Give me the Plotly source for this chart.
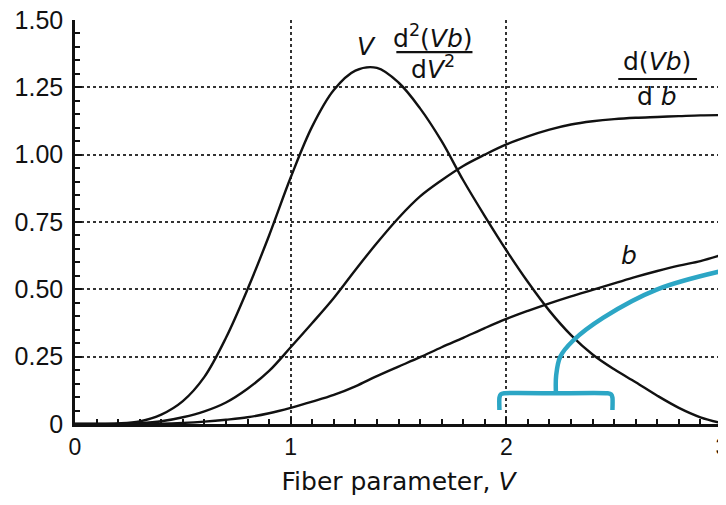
import plotly.graph_objects as go

# ---- data ----
V = [0.0, 0.1, 0.2, 0.3, 0.4, 0.5, 0.6, 0.7, 0.8, 0.9, 1.0, 1.1, 1.2, 1.3, 1.4, 1.5,
     1.6, 1.7, 1.8, 1.9, 2.0, 2.1, 2.2, 2.3, 2.4, 2.5, 2.6, 2.7, 2.8, 2.9, 3.0]
V_d2Vb = [0.0, 0.0, 0.002, 0.01, 0.035, 0.085, 0.175, 0.32, 0.5, 0.70, 0.915, 1.105, 1.24,
          1.312, 1.322, 1.268, 1.172, 1.05, 0.905, 0.772, 0.645, 0.527, 0.42, 0.33,
          0.258, 0.203, 0.155, 0.105, 0.06, 0.025, 0.003]
dVb = [0.0, 0.0, 0.0, 0.003, 0.01, 0.025, 0.047, 0.08, 0.131, 0.197, 0.285, 0.375, 0.468,
       0.572, 0.672, 0.765, 0.845, 0.905, 0.958, 1.0, 1.038, 1.068, 1.093, 1.112,
       1.124, 1.132, 1.137, 1.14, 1.143, 1.146, 1.147]
b = [0.0, 0.0, 0.0, 0.0, 0.001, 0.004, 0.009, 0.016, 0.025, 0.04, 0.06, 0.083, 0.108, 0.14,
     0.178, 0.213, 0.248, 0.285, 0.32, 0.356, 0.39, 0.42, 0.448, 0.474, 0.498,
     0.522, 0.546, 0.568, 0.588, 0.605, 0.628]

# blue bracket annotation (data coordinates)
bracket_x = [1.968, 1.968, 1.974, 1.99, 2.23, 2.47, 2.486, 2.492, 2.492]
bracket_y = [0.052, 0.098, 0.110, 0.114, 0.114, 0.114, 0.110, 0.098, 0.052]
stem_x = [2.23, 2.231, 2.25, 2.31, 2.45, 2.70, 3.02]
stem_y = [0.114, 0.18, 0.25, 0.31, 0.395, 0.50, 0.572]

x_tickvals = [0, 1, 2, 3]
x_ticktext = ["0", "1", "2", "3"]
y_tickvals = [0, 0.25, 0.5, 0.75, 1.0, 1.25, 1.5]
y_ticktext = ["0", "0.25", "0.50", "0.75", "1.00", "1.25", "1.50"]

BLACK = "#111111"
BLUE = "#2ca6c5"
FONT = "DejaVu Sans"
TICKFONT = "Liberation Sans Narrow, Liberation Sans"

fig = go.Figure()
for ys in (V_d2Vb, dVb, b):
    fig.add_trace(go.Scatter(x=V, y=ys, mode="lines",
                             line=dict(color=BLACK, width=2.4, shape="spline", smoothing=1.0),
                             hoverinfo="skip", showlegend=False))

fig.add_trace(go.Scatter(x=bracket_x, y=bracket_y, mode="lines",
                         line=dict(color=BLUE, width=4.5, shape="spline", smoothing=0.6),
                         showlegend=False, hoverinfo="skip"))
fig.add_trace(go.Scatter(x=stem_x, y=stem_y, mode="lines",
                         line=dict(color=BLUE, width=4.5, shape="spline", smoothing=1.0),
                         showlegend=False, hoverinfo="skip"))

# curve labels
lab = dict(color=BLACK, size=25, family=FONT)
ann = [
    dict(x=1.35, y=1.40, text="<i>V</i>"),
    dict(x=1.66, y=1.44, text="d<sup>2</sup>(<i>Vb</i>)"),
    dict(x=1.66, y=1.325, text="d<i>V</i><sup>2</sup>"),
    dict(x=2.70, y=1.345, text="d(<i>Vb</i>)"),
    dict(x=2.70, y=1.215, text="d <i>b</i>"),
    dict(x=2.57, y=0.625, text="<i>b</i>"),
]
for a in ann:
    fig.add_annotation(x=a["x"], y=a["y"], text=a["text"], showarrow=False,
                       font=lab, xref="x", yref="y", xanchor="center", yanchor="middle")

fig.add_shape(type="line", x0=1.49, x1=1.843, y0=1.381, y1=1.381,
              line=dict(color=BLACK, width=2.2), xref="x", yref="y")
fig.add_shape(type="line", x0=2.519, x1=2.884, y0=1.281, y1=1.281,
              line=dict(color=BLACK, width=2.2), xref="x", yref="y")

# the page body has an 8px default margin, so the figure is sized to fit the window
fig.update_layout(
    width=718, height=497,
    margin=dict(l=67, r=4, t=12, b=81),
    paper_bgcolor="white", plot_bgcolor="white",
    font=dict(family=FONT, color=BLACK),
)
fig.update_xaxes(
    range=[0, 3], tickvals=x_tickvals, ticktext=x_ticktext, automargin=False,
    ticklabeloverflow="allow",
    showline=True, linecolor=BLACK, linewidth=2.5,
    ticks="inside", ticklen=7, tickwidth=2, tickcolor=BLACK,
    minor=dict(dtick=0.1, ticks="inside", ticklen=5, tickwidth=1.5, tickcolor=BLACK, showgrid=False),
    showgrid=True, gridcolor="#333333", griddash="dot", gridwidth=1.5,
    zeroline=False,
    tickfont=dict(size=23, family=TICKFONT, color=BLACK),
    ticklabelstandoff=1,
    title=dict(text="Fiber parameter, <i>V</i>", font=dict(size=25, family=FONT, color=BLACK),
               standoff=14),
)
fig.update_yaxes(
    range=[0, 1.5], tickvals=y_tickvals, ticktext=y_ticktext, automargin=False,
    ticklabeloverflow="allow",
    showline=True, linecolor=BLACK, linewidth=2.5,
    ticks="inside", ticklen=7, tickwidth=2, tickcolor=BLACK,
    minor=dict(dtick=0.05, ticks="inside", ticklen=5, tickwidth=1.5, tickcolor=BLACK, showgrid=False),
    showgrid=True, gridcolor="#333333", griddash="dot", gridwidth=1.5,
    zeroline=False,
    tickfont=dict(size=25, family=TICKFONT, color=BLACK),
    ticklabelstandoff=4,
)

fig.write_html("out.html")
